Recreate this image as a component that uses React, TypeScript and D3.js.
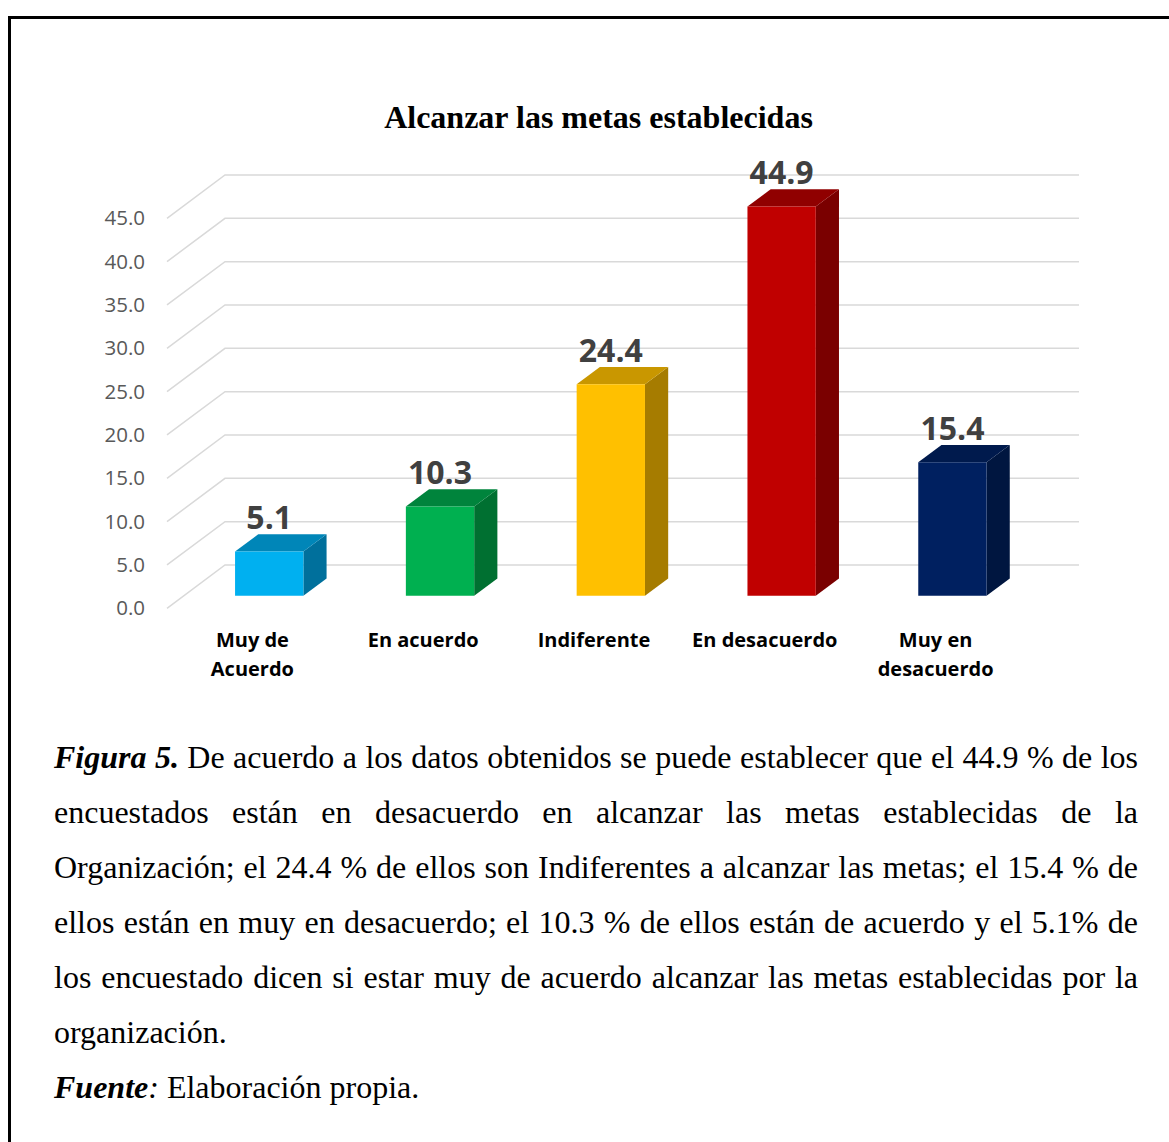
import React, { useEffect, useRef } from 'react';
import * as d3 from 'd3';

const categories: string[][] = [["Muy de", "Acuerdo"], ["En acuerdo"], ["Indiferente"], ["En desacuerdo"], ["Muy en", "desacuerdo"]];
const values: number[] = [5.1, 10.3, 24.4, 44.9, 15.4];
const frontColors: string[] = ["#00B0F0", "#00B050", "#FFC000", "#C00000", "#002060"];
const topColors: string[] = ["#0086B8", "#00843C", "#C99700", "#900000", "#001A4D"];
const sideColors: string[] = ["#00709C", "#007031", "#A67C00", "#7A0000", "#001640"];
const tickValues: number[] = [0, 5, 10, 15, 20, 25, 30, 35, 40, 45];
const chartTitle = "Alcanzar las metas establecidas";
const captionLines: { lead?: string; text: string; justify: boolean }[] = [
  { lead: "Figura 5.", text: " De acuerdo a los datos obtenidos se puede establecer que el 44.9 % de los", justify: true },
  { text: "encuestados están en desacuerdo en alcanzar las metas establecidas de la", justify: true },
  { text: "Organización; el 24.4 % de ellos son Indiferentes a alcanzar las metas; el 15.4 % de", justify: true },
  { text: "ellos están en muy en desacuerdo; el 10.3 % de ellos están de acuerdo y el 5.1% de", justify: true },
  { text: "los encuestado dicen si estar muy de acuerdo alcanzar las metas establecidas por la", justify: true },
  { text: "organización.", justify: false },
];
const sourceLead = "Fuente";
const sourceText = " Elaboración propia.";

const W = 1169;
const H = 1142;
const frontLeft = 167;
const frontRight = 1021;
const depthDx = 58;
const depthDy = 43.3;
const f0 = 0.29;
const f1 = 0.69;
const textLeft = 54;
const textRight = 1138;

export default function App() {
  const lineRefs = useRef<(SVGTextElement | null)[]>([]);

  useEffect(() => {
    captionLines.forEach((l, i) => {
      const el = lineRefs.current[i];
      if (!el || !l.justify) return;
      el.setAttribute('word-spacing', '0');
      const w = el.getComputedTextLength();
      const full = (l.lead || '') + l.text;
      const spaces = (full.match(/ /g) || []).length;
      if (spaces > 0) {
        el.setAttribute('word-spacing', String((textRight - textLeft - w) / spaces));
      }
    });
  }, []);

  const y = d3.scaleLinear().domain([0, 45]).range([565, 175]);
  const x = d3.scaleBand<number>().domain(values.map((_, i) => i)).range([frontLeft, frontRight]);
  const bw = x.bandwidth();
  const barW = bw * 0.4;

  const P = (xf: number, v: number, f: number): [number, number] => [xf + f * depthDx, y(v) + depthDy * (1 - f)];
  const poly = (pts: [number, number][]) => pts.map(p => p.join(',')).join(' ');

  return (
    <svg width={W} height={H} style={{ position: 'absolute', left: 0, top: 0, background: '#fff' }}>
      <rect x={0} y={0} width={W} height={H} fill="#fff" />
      <path d={`M9.5,${H} V17.5 H${W}`} fill="none" stroke="#000" strokeWidth={3} />

      <text x={598.5} y={128} textAnchor="middle" fontFamily="'Liberation Serif', 'Times New Roman', serif" fontWeight="bold" fontSize={32} fill="#000">{chartTitle}</text>

      {tickValues.map(t => {
        const [x0, y0] = P(frontLeft, t, 0);
        const [x1, y1] = P(frontLeft, t, 1);
        return (
          <g key={t}>
            <path d={`M${x0},${y0} L${x1},${y1} L${frontRight + depthDx},${y1}`} fill="none" stroke="#D9D9D9" strokeWidth={1.5} />
            <text x={145} y={y0} dy="0.35em" textAnchor="end" fontFamily="'Open Sans', sans-serif" fontSize={20.5} fill="#595959">{t.toFixed(1)}</text>
          </g>
        );
      })}

      {values.map((v, i) => {
        const xl = (x(i) as number) + (bw - barW) / 2;
        const xr = xl + barW;
        const front = [P(xl, v, f0), P(xr, v, f0), P(xr, 0, f0), P(xl, 0, f0)] as [number, number][];
        const top = [P(xl, v, f0), P(xr, v, f0), P(xr, v, f1), P(xl, v, f1)] as [number, number][];
        const side = [P(xr, v, f0), P(xr, v, f1), P(xr, 0, f1), P(xr, 0, f0)] as [number, number][];
        const labelX = xl + barW / 2 + f0 * depthDx;
        const labelY = P(xl, v, f1)[1] - 5;
        return (
          <g key={i}>
            <polygon points={poly(side)} fill={sideColors[i]} />
            <polygon points={poly(top)} fill={topColors[i]} />
            <polygon points={poly(front)} fill={frontColors[i]} />
            <text x={labelX} y={labelY} textAnchor="middle" fontFamily="'Open Sans', sans-serif" fontWeight="bold" fontSize={32} fill="#404040">{v.toFixed(1)}</text>
          </g>
        );
      })}

      {categories.map((lines, i) => (
        <text key={i} x={(x(i) as number) + bw / 2} y={647} textAnchor="middle" fontFamily="'Open Sans', sans-serif" fontWeight="bold" fontSize={20} fill="#000">
          {lines.map((ln, j) => (
            <tspan key={j} x={(x(i) as number) + bw / 2} dy={j === 0 ? 0 : 28.5}>{ln}</tspan>
          ))}
        </text>
      ))}

      {captionLines.map((l, i) => (
        <text key={i} ref={el => { lineRefs.current[i] = el; }} x={textLeft} y={768 + 55 * i} fontFamily="'Liberation Serif', 'Times New Roman', serif" fontSize={32} fill="#000" style={{ whiteSpace: 'pre' }}>
          {l.lead ? <tspan fontWeight="bold" fontStyle="italic">{l.lead}</tspan> : null}
          {l.text}
        </text>
      ))}

      <text x={textLeft} y={1098} fontFamily="'Liberation Serif', 'Times New Roman', serif" fontSize={32} fill="#000" style={{ whiteSpace: 'pre' }}>
        <tspan fontWeight="bold" fontStyle="italic">{sourceLead}</tspan>
        <tspan fontStyle="italic">:</tspan>
        {sourceText}
      </text>
    </svg>
  );
}
